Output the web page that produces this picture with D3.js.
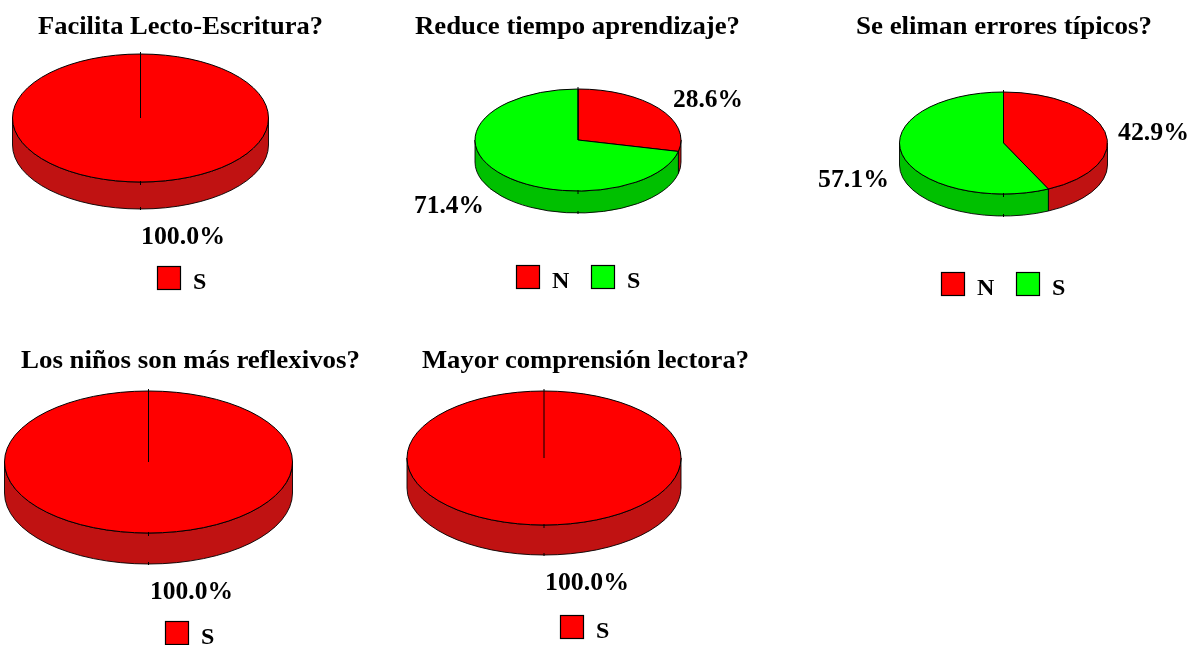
<!DOCTYPE html>
<html><head><meta charset="utf-8">
<script src="https://cdn.jsdelivr.net/npm/d3@7/dist/d3.min.js"></script>
<style>
html,body{margin:0;padding:0;background:#fff;overflow:hidden}
svg{display:block;filter:blur(0.4px)}
text{font-family:"Liberation Serif","Times New Roman",serif;font-weight:bold;fill:#000}
</style></head><body>
<svg id="c" width="1193" height="645"></svg>
<script>
// ---- data ----
const titles = ["Facilita Lecto-Escritura?","Reduce tiempo aprendizaje?","Se eliman errores típicos?","Los niños son más reflexivos?","Mayor comprensión lectora?"];
const categories = [["S"],["N","S"],["N","S"],["S"],["S"]];
const percentages = [[100.0],[28.6,71.4],[42.9,57.1],[100.0],[100.0]];
// colours follow the order of the categories inside each pie
const topColors = ["#ff0000","#00ff00"];
const sideColors = ["#c01212","#00c000"];

// ---- layout (separate from the data) ----
const pieBoxes = [
  {cx:140.5,cy:118,rx:128,ry:64,depth:27},
  {cx:578,cy:140,rx:103,ry:51,depth:22},
  {cx:1003.5,cy:143,rx:104,ry:51,depth:22},
  {cx:148.5,cy:462,rx:144,ry:71,depth:31},
  {cx:544,cy:458,rx:137,ry:67,depth:30}
];
const titlePos = [{x:38,y:34,w:285},{x:415,y:34,w:325},{x:856,y:34,w:296},{x:21,y:368,w:339},{x:422,y:368,w:327}];
const labelPos = [
  [{x:141,y:244,w:84}],
  [{x:673,y:107,w:70},{x:414,y:213,w:70}],
  [{x:1118,y:140,w:71},{x:818,y:187,w:71}],
  [{x:150,y:599,w:83}],
  [{x:545,y:590,w:84}]
];
const legendPos = [
  [{x:157,y:266}],
  [{x:516,y:265},{x:591,y:265}],
  [{x:941,y:272},{x:1016,y:272}],
  [{x:165,y:621}],
  [{x:560,y:615}]
];

const svg = d3.select("#c");
const idx = d3.scaleOrdinal().domain([0,1]);
const fill = d3.scaleOrdinal().domain([0,1]).range(topColors);
const side = d3.scaleOrdinal().domain([0,1]).range(sideColors);
const pie = d3.pie().sort(null).startAngle(0).endAngle(2*Math.PI);
const fontSize = 26;

function addText(g, str, p, size){
  g.append("text").attr("x",p.x).attr("y",p.y).attr("font-size",size)
   .attr("textLength",p.w).attr("lengthAdjust","spacingAndGlyphs").text(str);
}

titles.forEach((t,i)=>{
  const b = pieBoxes[i];
  const g = svg.append("g");
  addText(g,t,titlePos[i],fontSize);

  const slices = pie(percentages[i]);
  const x = d3.scaleLinear().domain([-1,1]).range([b.cx-b.rx,b.cx+b.rx]);
  const y = d3.scaleLinear().domain([-1,1]).range([b.cy-b.ry,b.cy+b.ry]);
  const px = a=>x(Math.sin(a)), py = a=>y(-Math.cos(a));

  // side wall: only the part of every slice on the front half of the ellipse
  slices.forEach(s=>{
    const a0 = Math.max(s.startAngle,Math.PI/2), a1 = Math.min(s.endAngle,3*Math.PI/2);
    if(a1<=a0) return;
    const large = (a1-a0)>Math.PI?1:0;
    const d = `M${px(a0)},${py(a0)}L${px(a0)},${py(a0)+b.depth}`+
      `A${b.rx},${b.ry} 0 ${large} 1 ${px(a1)},${py(a1)+b.depth}`+
      `L${px(a1)},${py(a1)}A${b.rx},${b.ry} 0 ${large} 0 ${px(a0)},${py(a0)}Z`;
    g.append("path").attr("d",d).attr("fill",side(s.index)).attr("stroke","#000").attr("stroke-width",0.9);
  });

  // top face: d3.arc squashed to the ellipse
  const arc = d3.arc().innerRadius(0).outerRadius(b.rx);
  const top = g.append("g").attr("transform",`translate(${b.cx},${b.cy}) scale(1,${b.ry/b.rx})`);
  top.selectAll("path").data(slices).join("path")
    .attr("d",d=>arc(d)).attr("fill",d=>fill(d.index)).attr("stroke","#000")
    .attr("stroke-width",1).attr("vector-effect","non-scaling-stroke");

  // radius at the start angle, drawn also when one slice fills the whole pie
  g.append("line").attr("x1",b.cx).attr("y1",b.cy)
    .attr("x2",px(slices[0].startAngle)).attr("y2",py(slices[0].startAngle)-2)
    .attr("stroke","#000").attr("stroke-width",1);

  // small ticks at the front seam
  g.append("line").attr("x1",b.cx).attr("x2",b.cx).attr("y1",b.cy+b.ry-1).attr("y2",b.cy+b.ry+3).attr("stroke","#000");
  g.append("line").attr("x1",b.cx).attr("x2",b.cx).attr("y1",b.cy+b.ry+b.depth-2).attr("y2",b.cy+b.ry+b.depth+1).attr("stroke","#000");

  // percentage labels
  percentages[i].forEach((v,k)=>addText(g,d3.format(".1f")(v)+"%",labelPos[i][k],fontSize));

  // legend
  categories[i].forEach((c,k)=>{
    const l = legendPos[i][k];
    g.append("rect").attr("x",l.x+.5).attr("y",l.y+.5).attr("width",23).attr("height",23)
      .attr("fill",fill(k)).attr("stroke","#000").attr("stroke-width",1.2);
    g.append("text").attr("x",l.x+36).attr("y",l.y+23).attr("font-size",fontSize-2).text(c);
  });
});
</script>
</body></html>
